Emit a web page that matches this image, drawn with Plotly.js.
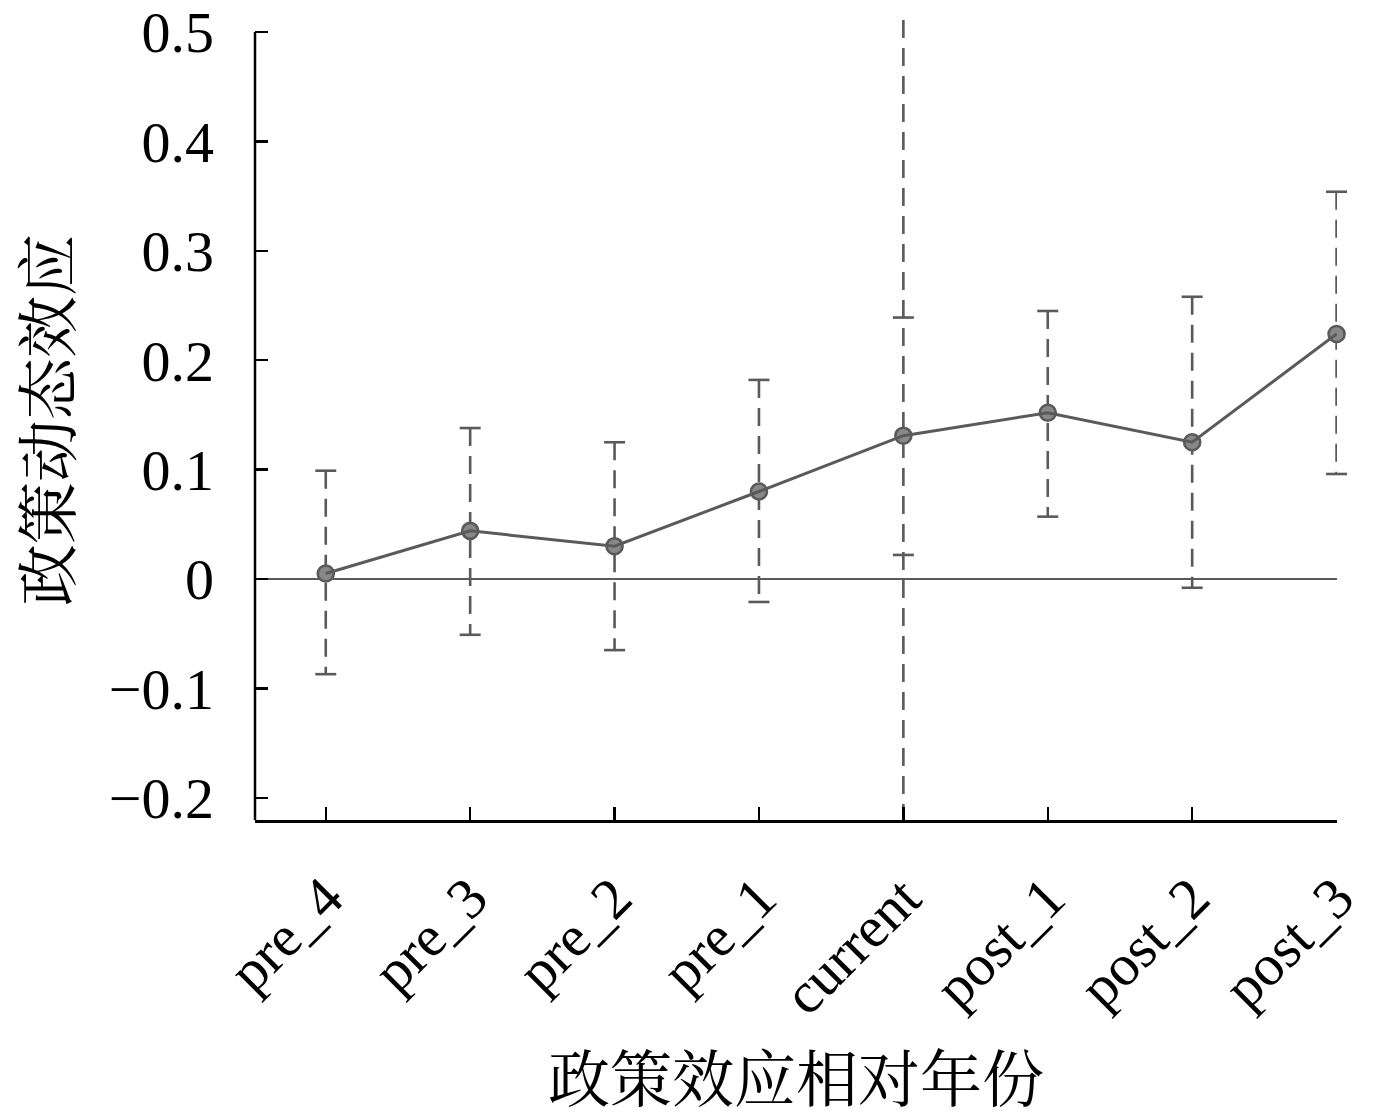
<!DOCTYPE html>
<html>
<head>
<meta charset="utf-8">
<script src="https://cdn.plot.ly/plotly-3.0.1.min.js"></script>
<style>html,body{margin:0;padding:0;background:#fff;}</style>
</head>
<body>
<div id="chart" style="width:1378px;height:1120px;"></div>
<script>
// Data
const categories = ['pre_4', 'pre_3', 'pre_2', 'pre_1', 'current', 'post_1', 'post_2', 'post_3'];
const estimate   = [0.005, 0.044, 0.030, 0.080, 0.131, 0.152, 0.125, 0.224];
const upperCI    = [0.099, 0.138, 0.125, 0.182, 0.239, 0.245, 0.258, 0.354];
const lowerCI    = [-0.087, -0.051, -0.065, -0.021, 0.022, 0.057, -0.008, 0.096];
const yTickVals  = [-0.2, -0.1, 0, 0.1, 0.2, 0.3, 0.4, 0.5];
const yTickText  = ['\u22120.2', '\u22120.1', '0', '0.1', '0.2', '0.3', '0.4', '0.5'];
const policyYear = 'current';
const xTitle = '政策效应相对年份';
const yTitle = '政策动态效应';

const gray = '#5a5a5a';
const yMin = -0.2203, yMax = 0.511, yAxisTop = 0.5;

// whiskers (dashed); the policy-year whisker lies on the dashed reference line
const wx = [], wy = [];
categories.forEach((c, i) => {
  if (c === policyYear) return;
  wx.push(c, c, null); wy.push(upperCI[i], lowerCI[i], null);
});
// caps
const capX = [], capY = [];
categories.forEach((c, i) => { capX.push(c, c); capY.push(upperCI[i], lowerCI[i]); });

const traces = [
  { x: wx, y: wy, type: 'scatter', mode: 'lines', hoverinfo: 'skip',
    line: { color: gray, width: 2.6, dash: '18px,10px' }, showlegend: false },
  { x: capX, y: capY, type: 'scatter', mode: 'markers', cliponaxis: false, hoverinfo: 'skip',
    marker: { symbol: 'line-ew', size: 15, line: { color: gray, width: 2.6 }, color: gray }, showlegend: false },
  { x: categories, y: estimate, type: 'scatter', mode: 'markers', cliponaxis: false,
    marker: { symbol: 'circle', size: 16, color: '#888888', line: { color: gray, width: 2.6 } }, showlegend: false },
  { x: categories, y: estimate, type: 'scatter', mode: 'lines',
    line: { color: gray, width: 3 }, showlegend: false }
];

const tickFont = { family: '"Liberation Serif", "Times New Roman", serif', size: 58, color: '#000' };
const cjkFont = { family: '"Noto Serif CJK SC", "Noto Sans CJK SC", sans-serif', size: 62, color: '#000' };

const layout = {
  width: 1378, height: 1120,
  margin: { l: 255, r: 41, t: 20, b: 300 },
  paper_bgcolor: '#fff', plot_bgcolor: '#fff',
  showlegend: false,
  xaxis: {
    type: 'category', categoryorder: 'array', categoryarray: categories,
    range: [-0.49, 7.003],
    showline: true, linecolor: '#000', linewidth: 2.5,
    ticks: 'inside', ticklen: 13, tickwidth: 2.5, tickcolor: '#000',
    tickangle: -45, tickfont: tickFont, ticklabelstandoff: 18,
    showgrid: false, zeroline: false,
    title: { text: xTitle, font: cjkFont, standoff: 52 },
    automargin: false
  },
  yaxis: {
    range: [yMin, yMax],
    tickmode: 'array', tickvals: yTickVals, ticktext: yTickText,
    showline: false,
    ticks: 'inside', ticklen: 13, tickwidth: 2.5, tickcolor: '#000',
    tickfont: tickFont, ticklabelstandoff: 40,
    showgrid: false,
    zeroline: true, zerolinecolor: gray, zerolinewidth: 2.5,
    title: { text: yTitle, font: cjkFont, standoff: 40 },
    automargin: false
  },
  shapes: [
    { type: 'line', xref: 'paper', yref: 'y', x0: 0, x1: 0, y0: yMin, y1: yAxisTop,
      line: { color: '#000', width: 2.5 }, layer: 'above' },
    { type: 'line', xref: 'x', yref: 'paper', x0: policyYear, x1: policyYear, y0: 1, y1: 0,
      line: { color: gray, width: 2.6, dash: '18px,10px' }, layer: 'below' }
  ]
};

Plotly.newPlot('chart', traces, layout, { staticPlot: true, displayModeBar: false });
</script>
</body>
</html>
